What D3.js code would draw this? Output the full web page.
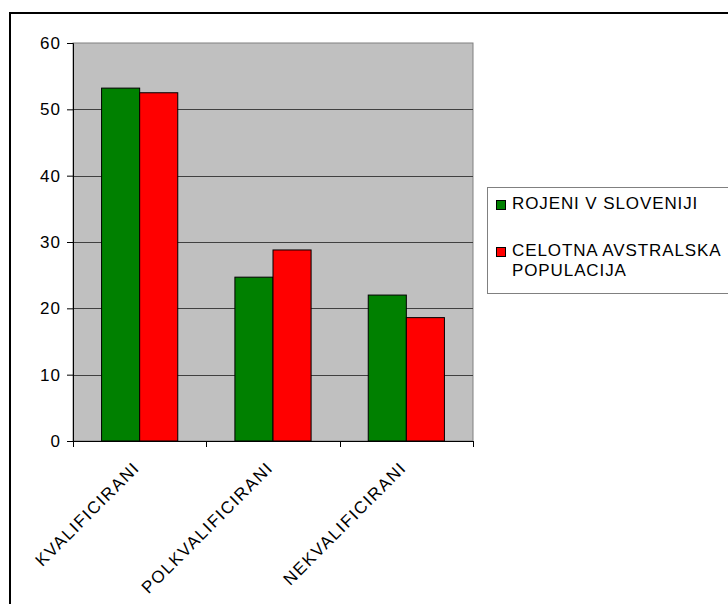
<!DOCTYPE html>
<html>
<head>
<meta charset="utf-8">
<script src="https://cdn.jsdelivr.net/npm/d3@7"></script>
<style>
  html, body { margin: 0; padding: 0; background: #fff; }
  svg { display: block; }
  text { font-family: Arial, "Liberation Sans", sans-serif; fill: #000; }
</style>
</head>
<body>
<svg id="chart" width="728" height="604"></svg>
<script>
const categories = ["KVALIFICIRANI", "POLKVALIFICIRANI", "NEKVALIFICIRANI"];
const seriesNames = ["ROJENI V SLOVENIJI", "CELOTNA AVSTRALSKA POPULACIJA"];
const seriesValues = [
  [53.2, 24.7, 22.0],
  [52.5, 28.8, 18.6]
];
const seriesColors = ["#008000", "#FF0000"];
const yTicks = [0, 10, 20, 30, 40, 50, 60];
const legendLines = [["ROJENI V SLOVENIJI"], ["CELOTNA AVSTRALSKA", "POPULACIJA"]];

const svg = d3.select("#chart");

// outer frame (extends beyond the viewport)
svg.append("rect")
  .attr("x", 10).attr("y", 13)
  .attr("width", 800).attr("height", 700)
  .attr("fill", "#fff").attr("stroke", "#000").attr("stroke-width", 2);

const plot = { left: 73, right: 473, top: 43, bottom: 441 };

const y = d3.scaleLinear().domain([0, 60]).range([plot.bottom, plot.top]);
const x = d3.scaleBand().domain(categories).range([plot.left, plot.right]).padding(0);
const gapRatio = 1.5;
const barW = x.bandwidth() / (seriesNames.length + gapRatio);
const xs = d3.scaleBand().domain(d3.range(seriesNames.length))
  .range([barW * gapRatio / 2, x.bandwidth() - barW * gapRatio / 2]).padding(0);

// plot background
svg.append("rect")
  .attr("x", plot.left).attr("y", plot.top)
  .attr("width", plot.right - plot.left).attr("height", plot.bottom - plot.top)
  .attr("fill", "#C0C0C0").attr("stroke", "#808080").attr("stroke-width", 1);

// gridlines
svg.append("g").selectAll("line")
  .data(yTicks.filter(t => t > 0 && t < 60))
  .join("line")
  .attr("x1", plot.left).attr("x2", plot.right)
  .attr("y1", d => Math.round(y(d)) + 0.5).attr("y2", d => Math.round(y(d)) + 0.5)
  .attr("stroke", "#404040").attr("stroke-width", 1);

// bars
const groups = svg.append("g").selectAll("g")
  .data(categories)
  .join("g")
  .attr("transform", c => `translate(${x(c)},0)`);

groups.selectAll("rect")
  .data((c, ci) => seriesValues.map((vals, si) => ({ si, v: vals[ci] })))
  .join("rect")
  .attr("x", d => xs(d.si))
  .attr("y", d => y(d.v))
  .attr("width", xs.bandwidth())
  .attr("height", d => y(0) - y(d.v))
  .attr("fill", d => seriesColors[d.si])
  .attr("stroke", "#000").attr("stroke-width", 1);

// y axis
const yLs = 1.2;
const yAxis = svg.append("g")
  .attr("transform", `translate(${plot.left},0)`)
  .call(d3.axisLeft(y).tickValues(yTicks).tickSize(6).tickPadding(7).tickFormat(d3.format("d")));
yAxis.select(".domain").attr("stroke", "#000");
yAxis.selectAll(".tick line").attr("stroke", "#000");
yAxis.selectAll(".tick text")
  .attr("font-size", 17)
  .attr("letter-spacing", yLs)
  .attr("dx", yLs)
  .attr("font-family", "Arial, 'Liberation Sans', sans-serif");

// x axis baseline and boundary ticks
const xAxis = svg.append("g");
xAxis.append("line")
  .attr("x1", plot.left).attr("x2", plot.right)
  .attr("y1", plot.bottom + 0.5).attr("y2", plot.bottom + 0.5)
  .attr("stroke", "#000");
const boundaries = categories.map(c => x(c)).concat([x(categories[categories.length - 1]) + x.bandwidth()]);
xAxis.selectAll("line.tk")
  .data(boundaries)
  .join("line").attr("class", "tk")
  .attr("x1", d => Math.round(d) + 0.5).attr("x2", d => Math.round(d) + 0.5)
  .attr("y1", plot.bottom).attr("y2", plot.bottom + 6)
  .attr("stroke", "#000");

const ls = 1.5;
xAxis.selectAll("text")
  .data(categories)
  .join("text")
  .attr("transform", c => `translate(${x(c) + x.bandwidth() / 2},${plot.bottom + 29}) rotate(-45)`)
  .attr("text-anchor", "end")
  .attr("dx", ls)
  .attr("font-size", 17)
  .attr("letter-spacing", ls)
  .text(c => c);

// legend
const legend = svg.append("g");
legend.append("rect")
  .attr("x", 487.5).attr("y", 187.5)
  .attr("width", 300).attr("height", 106)
  .attr("fill", "#fff").attr("stroke", "#808080").attr("stroke-width", 1);

const legendY = [209, 256];
legendLines.forEach((lines, i) => {
  legend.append("rect")
    .attr("x", 496.5).attr("y", legendY[i] - 8.5)
    .attr("width", 9).attr("height", 9)
    .attr("fill", seriesColors[i]).attr("stroke", "#000").attr("stroke-width", 1);
  lines.forEach((ln, j) => {
    legend.append("text")
      .attr("x", 512).attr("y", legendY[i] + j * 20)
      .attr("font-size", 17)
      .attr("letter-spacing", 0.9)
      .text(ln);
  });
});
</script>
</body>
</html>
